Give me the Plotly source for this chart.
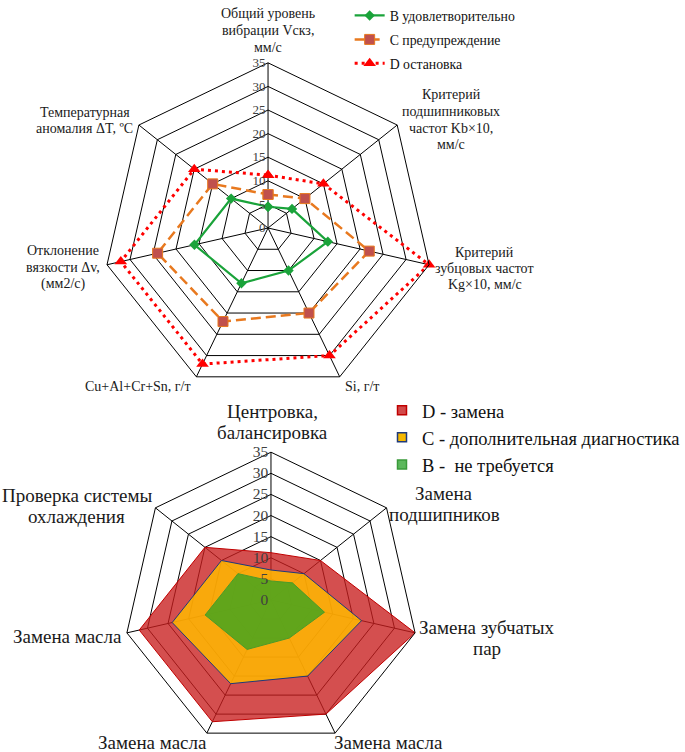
import plotly.graph_objects as go

# --- top radar: diagnostic criteria by condition zone ---
criteria = [
    "Общий уровень вибрации Vскз, мм/с",
    "Критерий подшипниковых частот Kb×10, мм/с",
    "Критерий зубцовых частот Kg×10, мм/с",
    "Si, г/т",
    "Cu+Al+Cr+Sn, г/т",
    "Отклонение вязкости Δv, (мм2/с)",
    "Температурная аномалия ΔT, ºC",
]
zone_b = [4.5, 6.5, 13, 10, 13, 16, 10]
zone_c = [7.1, 10, 22, 20, 22, 24, 15]
zone_d = [11.2, 15, 35, 30, 32, 32, 20]

# --- bottom radar: maintenance actions ---
actions = [
    "Центровка, балансировка",
    "Замена подшипников",
    "Замена зубчатых пар",
    "Замена масла (Si)",
    "Замена масла (Cu+Al+Cr+Sn)",
    "Замена масла (Δv)",
    "Проверка системы охлаждения",
]
act_d = zone_d
act_c = zone_c
act_b = zone_b

radial_ticks = [0, 5, 10, 15, 20, 25, 30, 35]

# axis captions, line by line, with label anchor (px from top-left) and alignment
top_captions = [
    (["Общий уровень", "вибрации Vскз,", "мм/с"], 272, 14, "center"),
    (["Критерий", "подшипниковых", "частот Kb×10,", "мм/с"], 458, 95, "center"),
    (["Критерий", "зубцовых частот", "Kg×10, мм/с"], 492, 252, "center"),
    (["Si, г/т"], 348, 386, "left"),
    (["Cu+Al+Cr+Sn, г/т"], 196, 386, "right"),
    (["Отклонение", "вязкости Δv,", "(мм2/с)"], 64, 251, "center"),
    (["Температурная", "аномалия ΔT, ºC"], 86, 112, "center"),
]
bottom_captions = [
    (["Центровка,", "балансировка"], 277, 411, "center"),
    (["Замена", "подшипников"], 451, 493, "center"),
    (["Замена зубчатых", "пар"], 494, 627, "center"),
    (["Замена масла"], 394, 742, "center"),
    (["Замена масла"], 155, 742, "center"),
    (["Замена масла"], 69, 636, "center"),
    (["Проверка системы", "охлаждения"], 78, 495, "center"),
]

SERIF = "Liberation Serif, Times New Roman, serif"
W, H = 685, 752


def closed(vals):
    return list(vals) + [vals[0]]


fig = go.Figure()

top_series = [
    ("B удовлетворительно", zone_b, dict(color="#1aa33a", width=2.2, dash="solid"),
     dict(symbol="diamond", size=8, color="#1aa33a")),
    ("C предупреждение", zone_c, dict(color="#e8791f", width=2.5, dash="10px,5px"),
     dict(symbol="square", size=10, color="#c0504d", line=dict(color="#e8791f", width=1))),
    ("D остановка", zone_d, dict(color="#ff0000", width=3, dash="3px,4px"),
     dict(symbol="triangle-up", size=11, color="#ff0000")),
]
for i, (name, vals, line, marker) in enumerate(top_series):
    fig.add_trace(go.Scatterpolar(
        r=closed(vals), theta=closed(criteria), mode="lines+markers",
        name=name, line=line, marker=marker, subplot="polar",
        legend="legend", legendgroup=f"top{i}",
    ))

bottom_series = [
    ("D - замена", act_d, "rgba(200,30,30,0.78)", "#c00000", "#d24a4a", "#c00000"),
    ("C - дополнительная диагностика", act_c, "rgba(255,185,0,0.85)", "#1f3a7a", "#f5b800", "#1f3a7a"),
    ("B -  не требуется", act_b, "rgba(70,165,30,0.85)", "#4c9a2a", "#5cb85c", "#3a9a3a"),
]
for i, (name, vals, fill, edge, icon, icon_edge) in enumerate(bottom_series):
    fig.add_trace(go.Scatterpolar(
        r=closed(vals), theta=closed(actions), mode="lines", fill="toself",
        fillcolor=fill, line=dict(color=edge, width=1), subplot="polar2",
        showlegend=False, hoverinfo="r+theta", name=name,
    ))
    fig.add_trace(go.Scatterpolar(
        r=[None], theta=[actions[0]], mode="markers", name=name,
        marker=dict(symbol="square", size=9, color=icon, line=dict(color=icon_edge, width=1.5)),
        subplot="polar2", legend="legend2", legendgroup=f"bot{i}",
    ))


def polar_layout(domain_x, domain_y, cats, tick_font):
    return dict(
        domain=dict(x=domain_x, y=domain_y),
        gridshape="linear",
        bgcolor="white",
        angularaxis=dict(
            categoryorder="array", categoryarray=cats,
            rotation=90, direction="clockwise",
            showline=True, linecolor="black", linewidth=1,
            showgrid=True, gridcolor="black", gridwidth=1,
            ticks="", showticklabels=False,
        ),
        radialaxis=dict(
            range=[0, 35], tickvals=radial_ticks, angle=90, tickangle=90,
            side="counterclockwise", showline=False, ticks="",
            showgrid=True, gridcolor="black", gridwidth=1,
            tickfont=dict(family=SERIF, size=tick_font, color="#404040"),
        ),
    )


annotations = []


def add_caption(lines, x, y0, align, size, spacing):
    for k, text in enumerate(lines):
        annotations.append(dict(
            text=text, x=x / W, y=1 - (y0 + k * spacing) / H,
            xref="paper", yref="paper", xanchor=align, yanchor="middle",
            showarrow=False, font=dict(family=SERIF, size=size, color="#1a1a1a"),
        ))


for lines, x, y0, align in top_captions:
    add_caption(lines, x, y0, align, 14, 16.5)
for lines, x, y0, align in bottom_captions:
    add_caption(lines, x, y0, align, 19, 21)

fig.update_layout(
    width=W, height=H,
    margin=dict(l=0, r=0, t=0, b=0),
    paper_bgcolor="white",
    plot_bgcolor="white",
    polar=polar_layout([0.1524, 0.6418], [0.4739, 0.9197], criteria, 13),
    polar2=polar_layout([0.1825, 0.6204], [0.0027, 0.4016], actions, 15.5),
    annotations=annotations,
    legend=dict(
        x=0.518, y=1.0, xanchor="left", yanchor="top",
        font=dict(family=SERIF, size=13.8, color="#111"),
        tracegroupgap=3, bgcolor="rgba(0,0,0,0)",
    ),
    legend2=dict(
        x=0.566, y=0.479, xanchor="left", yanchor="top",
        font=dict(family=SERIF, size=18.5, color="#111"),
        tracegroupgap=0, bgcolor="rgba(0,0,0,0)", itemwidth=30,
    ),
)

fig.write_html("out.html")
